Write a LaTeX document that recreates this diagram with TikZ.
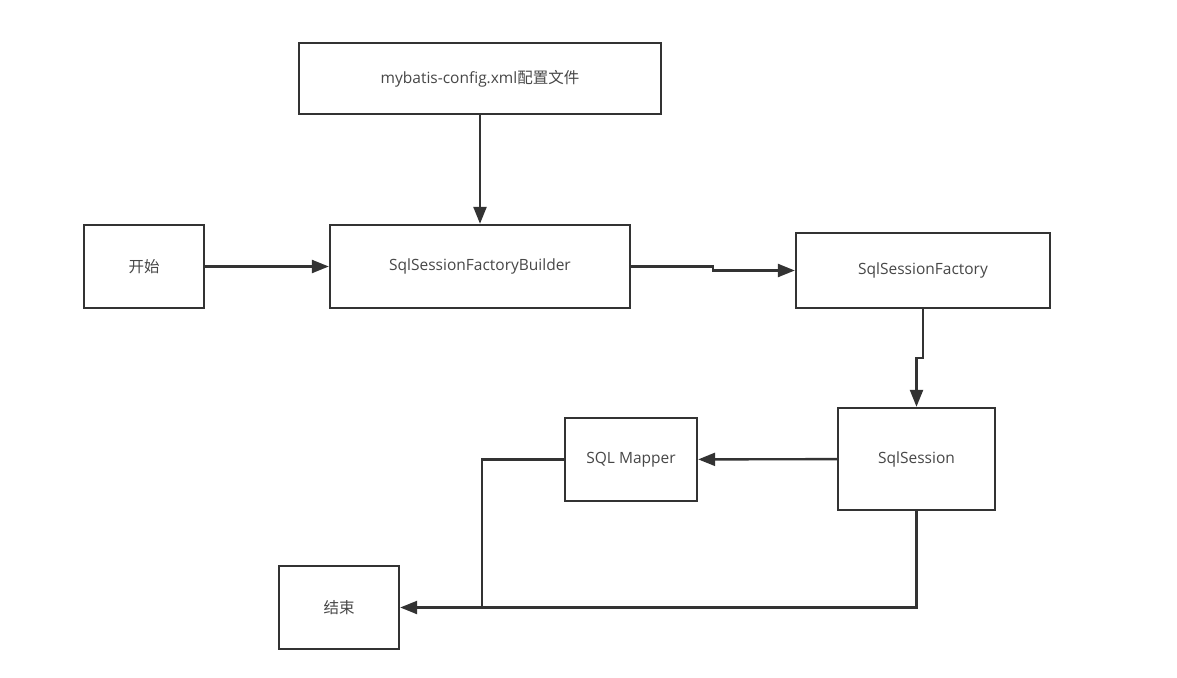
\documentclass[tikz,border=0pt]{standalone}
\usepackage{fontspec}
\setmainfont{Open Sans}
\newfontfamily\cjk{Noto Sans CJK SC}
\usetikzlibrary{positioning,arrows.meta,calc}
\definecolor{ink}{HTML}{333333}
\tikzset{
  box/.style ={draw=ink, line width=2.4pt, fill=white, inner sep=0pt,
               font=\fontsize{15.5}{18}\selectfont, text=ink!90},
  fl/.style  ={-{Triangle[length=17pt,width=13pt]}, draw=ink, line width=2.4pt},
  ln/.style  ={draw=ink, line width=2.4pt},
}
\begin{document}
\begin{tikzpicture}[x=1pt, y=-1pt]
  \useasboundingbox (0,0) rectangle (1177,677);

  % top: configuration file
  \node[box, minimum width=362pt, minimum height=71pt] (cfg) at (480,78.5)
        {mybatis-config.xml{\cjk 配置文件}};

  % main row
  \node[box, minimum width=120pt, minimum height=83pt] (start) at (144,266.5) {\cjk 开始};
  \node[box, minimum width=300pt, minimum height=83pt] (builder) at (480,266.5)
        {SqlSessionFactoryBuilder};
  \node[box, minimum width=254pt, minimum height=75pt] (factory) at (923,270.5)
        {SqlSessionFactory};

  % session and mapper
  \node[box, minimum width=157pt, minimum height=102pt] (session) at (916.5,459) {SqlSession};
  \node[box, minimum width=132pt, minimum height=83pt] (mapper) at (631,459.5) {SQL Mapper};
  \node[box, minimum width=120pt, minimum height=83pt] (end) at (339,607.5) {\cjk 结束};

  % helper points for the bends
  \coordinate (j1) at (713,266.5);
  \coordinate (j2) at (923,358);
  \coordinate (j3) at (482,459.5);
  \coordinate (j4) at (482,607.5);

  % arrows
  \draw[fl] (cfg) -- (builder);
  \draw[fl] (start) -- (builder);
  \draw[fl] (builder.east) -- (j1) |- (factory.west);
  \draw[fl] (factory.south) -- (j2) -| (session.north);
  \draw[fl] (session) -- (mapper);
  \draw[ln] (mapper.west) -- (j3) -- (j4);
  \draw[fl] (session.south) |- (end.east);
\end{tikzpicture}
\end{document}
